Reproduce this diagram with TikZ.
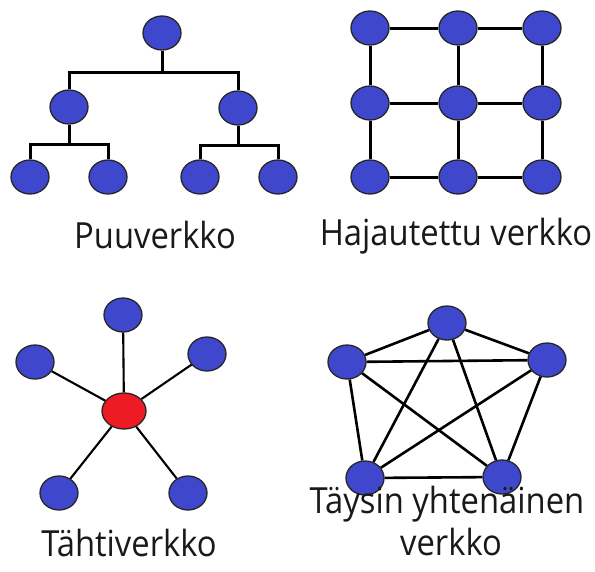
\documentclass[tikz,border=0pt]{standalone}
\usepackage{fontspec}
\setmainfont{Open Sans}
\usetikzlibrary{shapes.geometric}
\definecolor{nodeblue}{RGB}{63,72,204}
\definecolor{nodered}{RGB}{237,28,36}
\newcommand{\lbltext}[1]{\scalebox{0.91}[1]{#1}}
\tikzset{
  nd/.style={ellipse, draw=black!85, line width=1.3pt, fill=nodeblue, minimum width=38pt, minimum height=34pt, inner sep=0pt},
  rednd/.style={nd, fill=nodered, minimum width=44pt, minimum height=36pt},
  link/.style={line width=3pt, black},
  thinlink/.style={line width=2.1pt, black},
  lbl/.style={font=\fontsize{36}{44}\selectfont, text=black!90, anchor=base, inner sep=0pt}
}
\begin{document}
\begin{tikzpicture}[x=1pt,y=-1pt]
\useasboundingbox[fill=white] (0,0) rectangle (595,571);
% Tree
\node[nd] (r) at (162,33) {};
\node[nd] (m1) at (69,107) {};
\node[nd] (m2) at (238,108) {};
\node[nd] (l1) at (30,177) {};
\node[nd] (l2) at (108,177) {};
\node[nd] (l3) at (200,177) {};
\node[nd] (l4) at (278,177) {};
\coordinate (b0) at (0,72);
\coordinate (b1) at (0,144);
\coordinate (b2) at (0,145);
\draw[link] (r) -- (r |- b0);
\draw[link] (m1) -- (m1 |- b0) -- (m2 |- b0) -- (m2);
\draw[link] (m1) -- (m1 |- b1);
\draw[link] (l1) -- (l1 |- b1) -- (l2 |- b1) -- (l2);
\draw[link] (m2) -- (m2 |- b2);
\draw[link] (l3) -- (l3 |- b2) -- (l4 |- b2) -- (l4);
\node[lbl] (t1) at (155,248) {\lbltext{Puuverkko}};
% Grid
\foreach \c/\x in {1/370,2/458,3/542}{
  \foreach \r/\y in {1/28,2/103,3/177}{
    \node[nd] (g\r\c) at (\x,\y) {};
  }
}
\foreach \r in {1,2,3}{
  \draw[link] (g\r1) -- (g\r2);
  \draw[link] (g\r2) -- (g\r3);
}
\foreach \c in {1,2,3}{
  \draw[link] (g1\c) -- (g2\c);
  \draw[link] (g2\c) -- (g3\c);
}
\node[lbl] (t2) at (456,245) {\lbltext{Hajautettu verkko}};
% Star
\node[rednd] (s0) at (124,411) {};
\node[nd] (s1) at (123,315) {};
\node[nd] (s2) at (35,362) {};
\node[nd] (s3) at (207,354) {};
\node[nd] (s4) at (59,493) {};
\node[nd] (s5) at (188,493) {};
\foreach \i in {1,...,5}{ \draw[thinlink] (s0) -- (s\i); }
\node[lbl] (t3) at (129,556) {\lbltext{Tähtiverkko}};
% Full mesh
\node[nd] (p1) at (447,323) {};
\node[nd] (p2) at (347,362) {};
\node[nd] (p3) at (547,360) {};
\node[nd] (p4) at (365,478) {};
\node[nd] (p5) at (502,477) {};
\foreach \a/\b in {1/2,1/3,1/4,1/5,2/3,2/4,2/5,3/4,3/5,4/5}{
  \draw[link, line width=2.6pt] (p\a) -- (p\b);
}
\node[lbl] (t4) at (447,513) {\lbltext{Täysin yhtenäinen}};
\node[lbl] (t5) at (451,555) {\lbltext{verkko}};
\end{tikzpicture}
\end{document}
